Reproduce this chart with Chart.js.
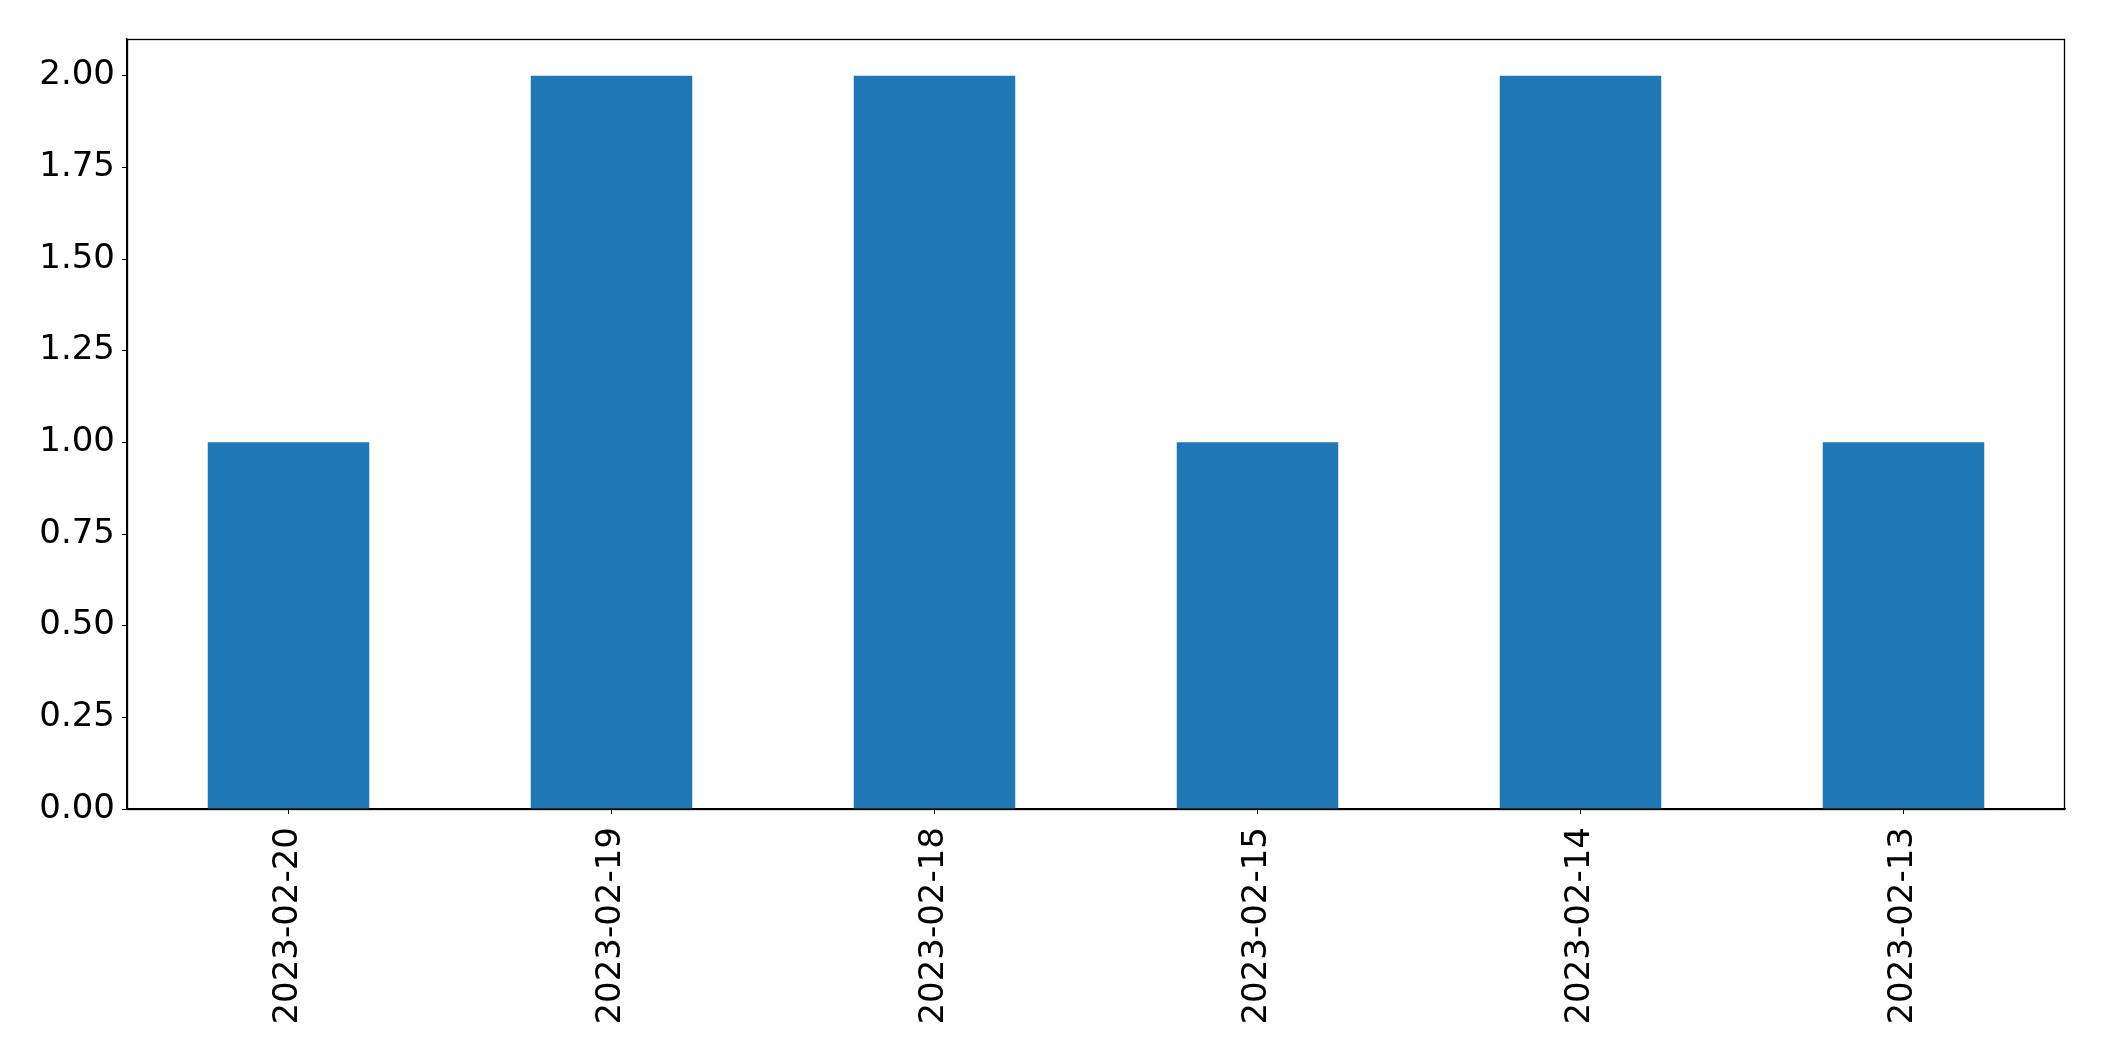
<!DOCTYPE html>
<html>
<head>
<meta charset="utf-8">
<script src="https://cdn.jsdelivr.net/npm/chart.js@4"></script>
<style>
  html, body { margin: 0; padding: 0; background: #fff; }
  #wrap { width: 2104px; height: 1061px; }
</style>
</head>
<body>
<div id="wrap"><canvas id="counts" width="2104" height="1061"></canvas></div>
<script>
const dates = ['2023-02-20', '2023-02-19', '2023-02-18', '2023-02-15', '2023-02-14', '2023-02-13'];
const counts = [1, 2, 2, 1, 2, 1];
const yTicks = [0, 0.25, 0.5, 0.75, 1, 1.25, 1.5, 1.75, 2];

// matplotlib-like frame: close the box on top and right
const frame = {
  id: 'frame',
  afterDraw(chart) {
    const { ctx, chartArea: a } = chart;
    ctx.save();
    ctx.strokeStyle = '#000';
    ctx.lineWidth = 1.3;
    ctx.strokeRect(a.left + 0.5, a.top + 0.5, a.right - a.left - 1, a.bottom - a.top);
    ctx.restore();
  }
};

Chart.defaults.font.family = '"DejaVu Sans", sans-serif';
Chart.defaults.color = '#000';

new Chart(document.getElementById('counts'), {
  type: 'bar',
  data: {
    labels: dates,
    datasets: [{
      data: counts,
      backgroundColor: '#1f77b4',
      categoryPercentage: 1,
      barPercentage: 0.5
    }]
  },
  options: {
    responsive: false,
    animation: false,
    layout: { padding: { top: 39, right: 39, left: 0, bottom: 0 } },
    plugins: { legend: { display: false }, tooltip: { enabled: false } },
    scales: {
      x: {
        offset: true,
        afterFit(scale) { scale.height = 252; },
        grid: { offset: false, drawOnChartArea: false, drawTicks: true, tickLength: 5, color: '#000' },
        border: { display: true, color: '#000', width: 1.3 },
        ticks: { minRotation: 90, maxRotation: 90, padding: 13, font: { size: 34 }, color: '#000' }
      },
      y: {
        min: 0,
        max: 2.1,
        afterFit(scale) { scale.width = 127; },
        afterBuildTicks(scale) { scale.ticks = yTicks.map(v => ({ value: v })); },
        grid: { drawOnChartArea: false, drawTicks: true, tickLength: 5, color: '#000' },
        border: { display: true, color: '#000', width: 1.3 },
        ticks: {
          padding: 7,
          font: { size: 34 },
          color: '#000',
          callback: v => Number(v).toFixed(2)
        }
      }
    }
  },
  plugins: [frame]
});
</script>
</body>
</html>
